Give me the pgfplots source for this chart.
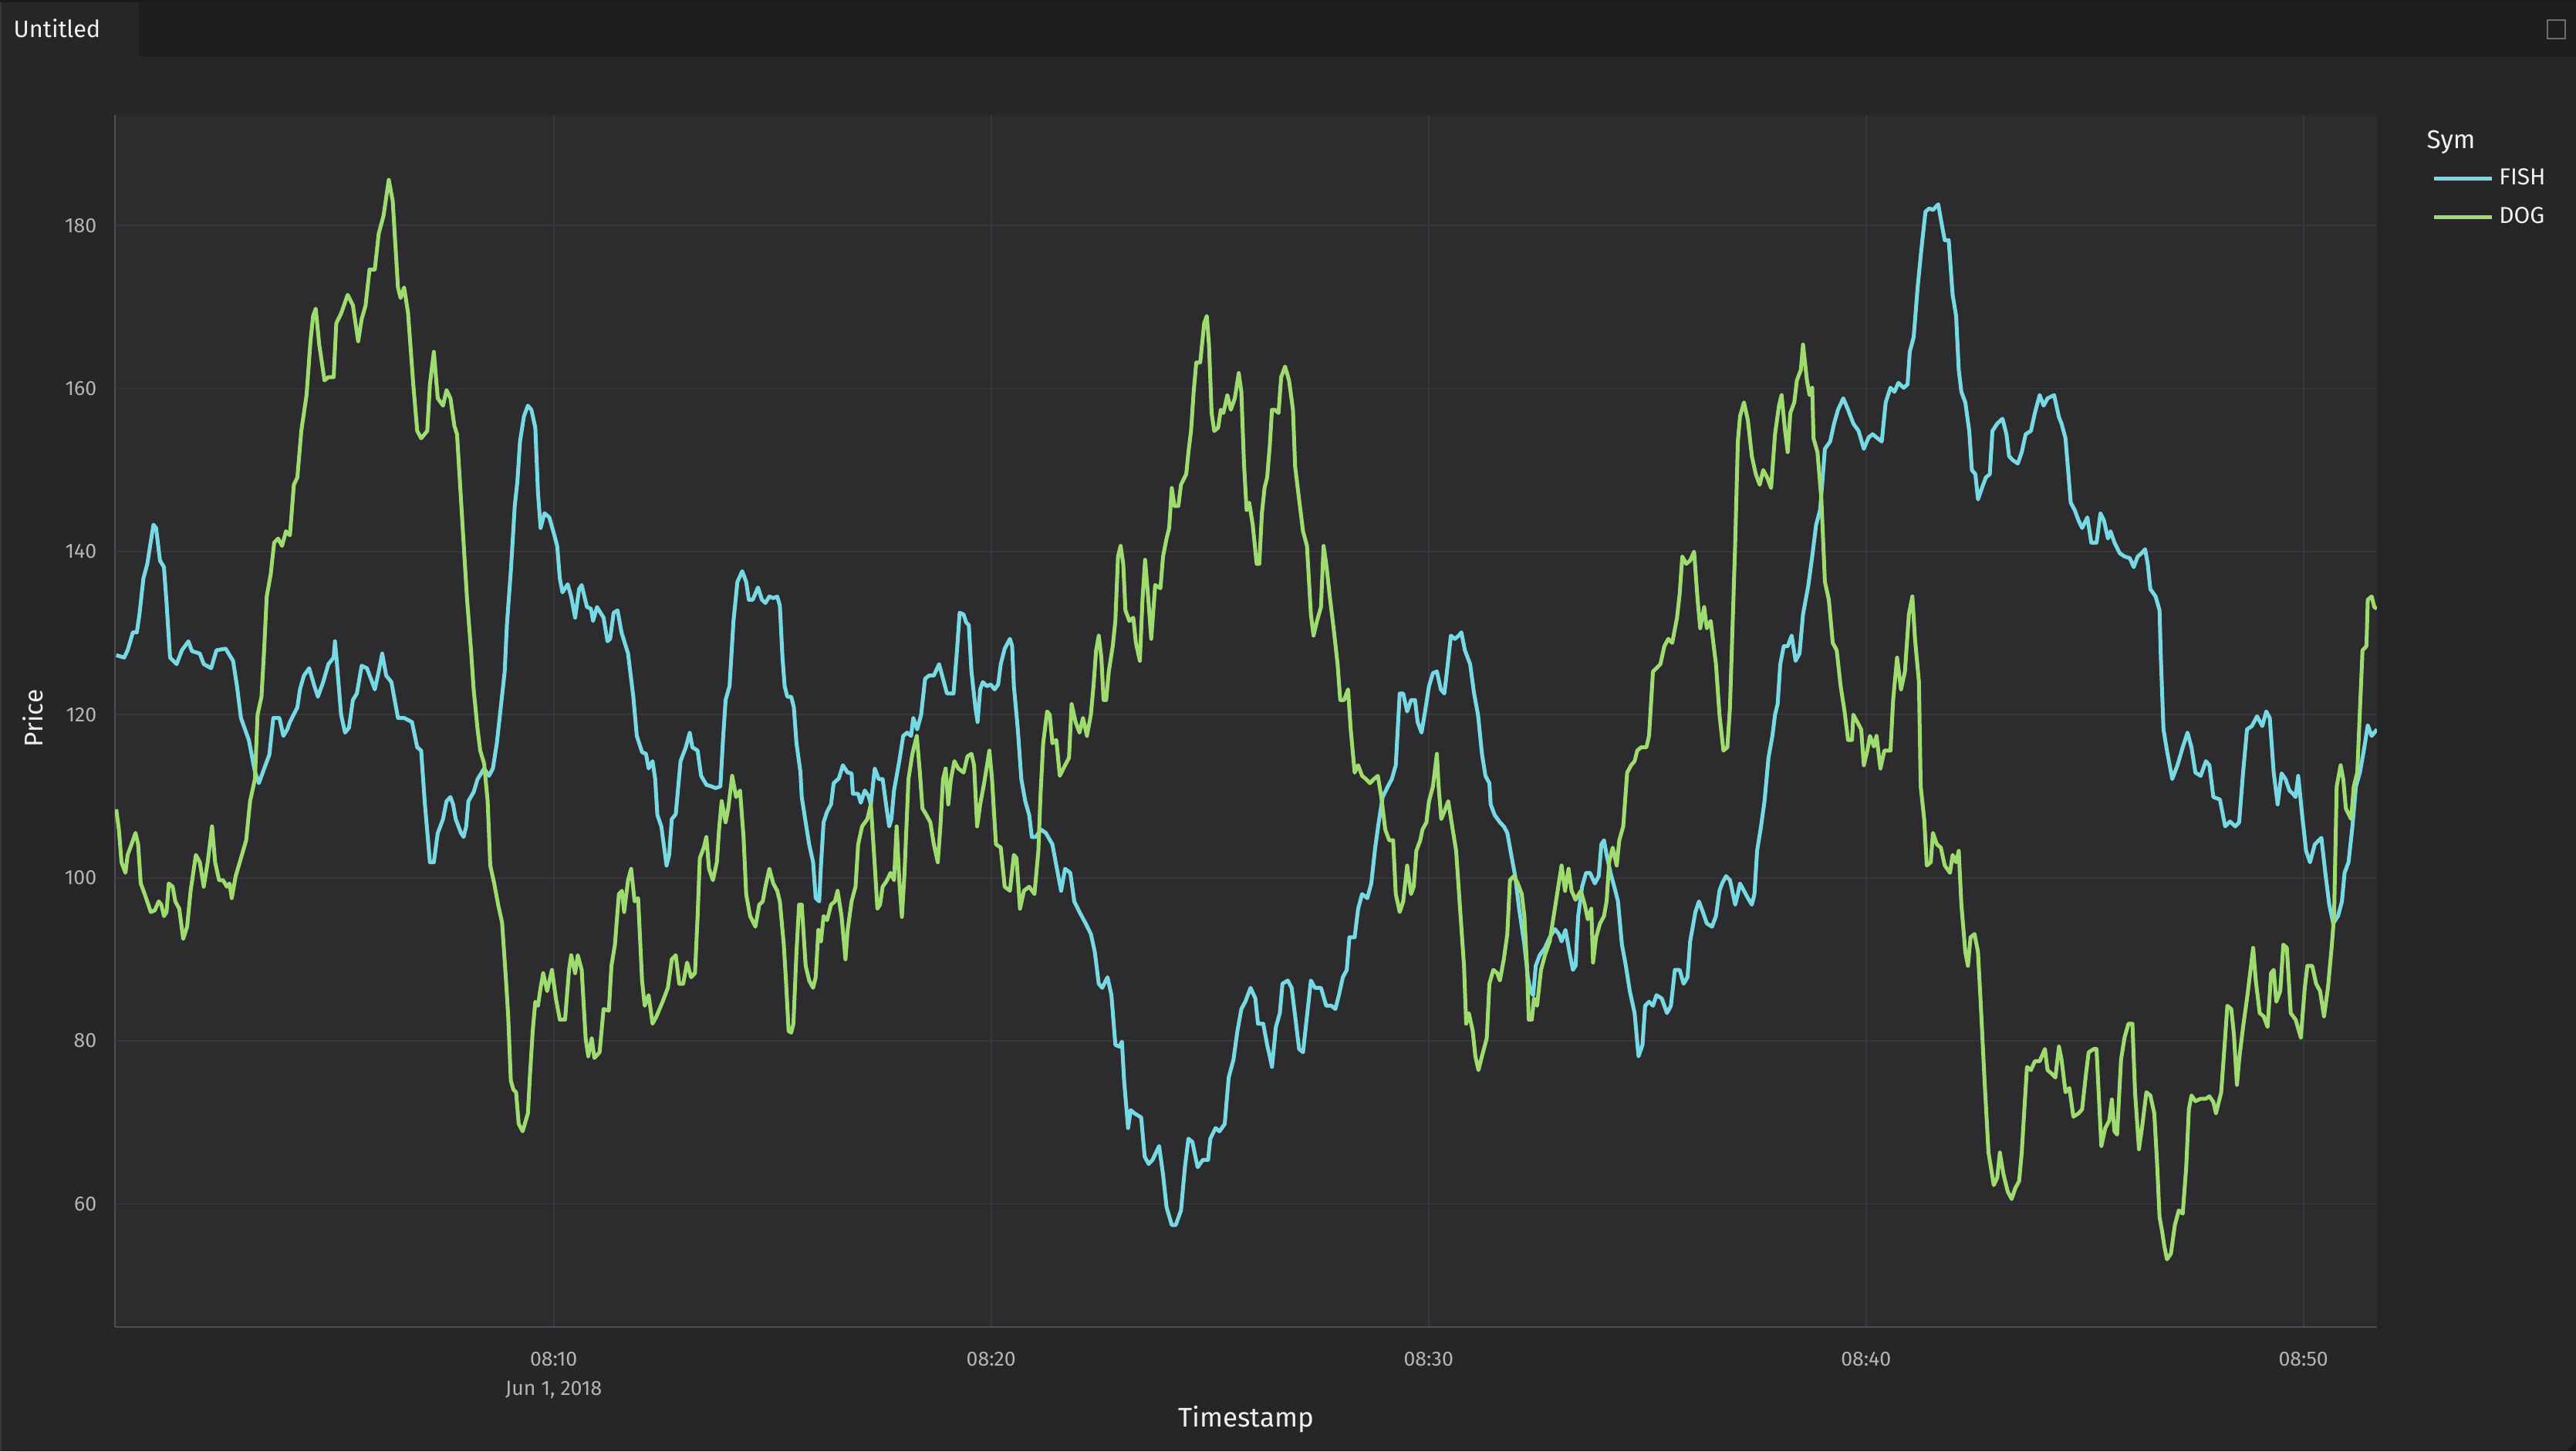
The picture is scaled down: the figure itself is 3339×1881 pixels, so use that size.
\documentclass[border=0pt]{standalone}
\usepackage{fontspec}
\setmainfont{Fira Sans}
\usepackage{pgfplots}
\pgfplotsset{compat=1.18}
\usepackage{pgfplotstable}

\definecolor{outerbg}{HTML}{1A1A1C}
\definecolor{barbg}{HTML}{1E1E20}
\definecolor{panelbg}{HTML}{262528}
\definecolor{plotbg}{HTML}{2C2B2E}
\definecolor{gridc}{HTML}{38373B}
\definecolor{axisc}{HTML}{4E4D51}
\definecolor{tickc}{HTML}{B4B4B4}
\definecolor{labelc}{HTML}{F0F0EE}
\definecolor{iconc}{HTML}{6E6E6E}
\definecolor{fishc}{HTML}{76D9E4}
\definecolor{dogc}{HTML}{9EDC6F}

% minutes after 08:00 on Jun 1, 2018 ; price
\pgfplotstableread{
t p
0.00 127.3
0.18 127.0
0.26 127.9
0.38 130.1
0.47 130.1
0.53 132.3
0.62 136.7
0.71 138.5
0.85 143.3
0.91 142.9
1.00 138.9
1.09 138.1
1.15 133.7
1.23 127.0
1.38 126.2
1.50 127.9
1.65 129.0
1.73 127.8
1.91 127.5
2.00 126.2
2.17 125.7
2.29 127.9
2.50 128.1
2.67 126.6
2.76 123.5
2.85 119.6
3.03 116.9
3.17 113.0
3.26 111.6
3.41 113.8
3.50 115.1
3.59 119.6
3.73 119.6
3.82 117.4
3.91 118.2
3.97 119.1
4.14 120.9
4.20 123.1
4.29 124.8
4.41 125.7
4.53 123.5
4.61 122.2
4.73 124.0
4.85 126.2
4.97 127.0
5.00 129.0
5.04 126.6
5.14 120.0
5.23 117.8
5.32 118.4
5.41 121.8
5.50 122.6
5.61 126.0
5.73 125.7
5.85 124.0
5.91 123.1
6.00 125.3
6.08 127.5
6.17 124.8
6.29 124.0
6.44 119.6
6.58 119.6
6.76 119.1
6.88 116.0
6.97 115.6
7.05 109.4
7.17 101.9
7.26 101.9
7.35 105.5
7.38 105.9
7.47 107.2
7.55 109.4
7.64 109.9
7.70 109.0
7.76 107.2
7.88 105.5
7.94 105.0
8.00 106.3
8.05 109.4
8.17 110.5
8.26 112.1
8.41 113.4
8.52 112.5
8.61 113.4
8.70 116.5
8.79 120.9
8.88 125.3
8.93 131.0
9.02 137.6
9.11 145.6
9.17 148.6
9.23 153.5
9.32 156.6
9.41 157.9
9.49 157.4
9.58 155.2
9.64 147.3
9.70 142.9
9.79 144.7
9.90 144.2
9.99 142.5
10.08 140.7
10.14 136.7
10.20 135.0
10.32 136.0
10.40 134.5
10.49 131.9
10.58 135.4
10.64 135.9
10.76 133.2
10.85 133.0
10.90 131.5
10.99 133.2
11.14 131.9
11.23 129.0
11.29 129.3
11.37 132.5
11.46 132.8
11.55 130.1
11.70 127.5
11.82 122.2
11.90 117.4
12.02 115.4
12.11 115.2
12.17 113.4
12.26 114.3
12.32 112.1
12.37 107.7
12.46 106.3
12.58 101.5
12.64 102.8
12.70 107.2
12.79 107.8
12.90 114.3
13.02 116.0
13.11 117.8
13.17 116.0
13.29 115.6
13.37 112.5
13.49 111.4
13.61 111.2
13.70 111.0
13.81 111.2
13.87 116.9
13.93 121.8
14.02 123.5
14.11 131.5
14.20 136.3
14.31 137.6
14.40 136.3
14.46 134.1
14.55 134.1
14.67 135.6
14.76 134.1
14.84 133.7
14.93 134.5
15.02 134.3
15.11 134.5
15.17 133.4
15.23 127.0
15.28 123.5
15.34 122.2
15.43 122.2
15.49 120.9
15.55 116.5
15.64 113.0
15.67 109.9
15.76 106.8
15.84 104.1
15.93 101.9
15.99 97.5
16.07 97.1
16.11 101.5
16.17 106.8
16.25 108.1
16.34 109.0
16.40 111.6
16.52 112.2
16.61 113.8
16.72 112.9
16.81 112.8
16.84 110.3
16.96 110.3
17.02 109.2
17.11 110.7
17.20 110.0
17.25 109.0
17.34 113.4
17.43 112.1
17.52 112.1
17.61 108.5
17.67 106.3
17.72 107.2
17.78 110.7
17.90 114.3
17.99 117.4
18.08 117.8
18.17 117.4
18.22 119.6
18.31 118.2
18.40 120.0
18.49 124.4
18.58 124.8
18.69 124.8
18.81 126.2
18.90 124.4
18.99 122.6
19.14 122.6
19.22 127.9
19.28 132.5
19.37 132.3
19.43 131.3
19.49 131.0
19.55 125.3
19.64 120.9
19.69 119.1
19.75 123.1
19.81 124.0
19.90 123.5
19.99 123.7
20.08 123.1
20.16 123.7
20.22 126.2
20.31 128.1
20.43 129.3
20.48 128.4
20.52 123.5
20.61 118.2
20.69 112.1
20.78 109.4
20.87 107.7
20.93 105.0
21.02 105.0
21.14 105.9
21.25 105.5
21.40 104.1
21.49 101.5
21.60 98.4
21.69 101.1
21.81 100.6
21.90 97.1
22.02 95.8
22.16 94.4
22.28 93.1
22.37 90.9
22.46 87.0
22.54 86.5
22.66 87.8
22.75 85.6
22.84 79.5
22.93 79.3
22.99 79.9
23.04 75.1
23.13 69.3
23.19 71.5
23.28 71.1
23.43 70.6
23.51 65.8
23.60 64.9
23.69 65.4
23.84 67.1
23.93 63.6
24.01 59.6
24.13 57.4
24.22 57.4
24.34 59.2
24.43 64.5
24.51 68.0
24.60 67.6
24.72 64.5
24.84 65.4
24.96 65.4
25.01 68.0
25.13 69.3
25.22 68.9
25.34 69.8
25.43 75.5
25.54 77.7
25.63 81.2
25.72 83.9
25.81 84.8
25.93 86.5
26.04 85.2
26.10 82.1
26.22 82.1
26.31 79.5
26.37 78.1
26.42 76.8
26.51 81.7
26.60 83.4
26.66 87.0
26.78 87.4
26.87 86.5
26.95 83.0
27.04 79.0
27.13 78.6
27.22 83.0
27.31 87.4
27.40 86.5
27.54 86.5
27.66 84.3
27.78 84.3
27.87 83.9
27.95 85.6
28.04 87.8
28.13 88.7
28.19 92.7
28.31 92.7
28.39 96.2
28.48 98.0
28.60 97.5
28.69 99.3
28.78 103.7
28.86 106.8
28.95 109.9
29.07 111.2
29.16 112.1
29.25 113.8
29.34 122.6
29.42 122.6
29.51 120.4
29.60 121.8
29.69 121.8
29.75 119.1
29.84 117.8
29.92 120.4
30.01 123.5
30.10 125.1
30.19 125.3
30.28 123.1
30.36 122.6
30.42 125.3
30.51 129.7
30.60 129.3
30.69 129.7
30.75 130.1
30.83 127.9
30.95 126.2
31.04 122.6
31.13 120.0
31.22 115.2
31.30 112.5
31.39 111.6
31.42 109.0
31.51 107.7
31.63 106.8
31.72 106.3
31.80 105.5
31.89 102.8
31.98 100.2
32.07 96.2
32.19 91.8
32.27 87.8
32.33 86.1
32.39 85.6
32.45 89.2
32.54 90.5
32.66 91.4
32.77 92.7
32.89 93.7
32.98 93.1
33.04 92.2
33.13 93.6
33.22 90.9
33.30 88.7
33.36 89.2
33.42 95.3
33.51 98.9
33.60 100.6
33.69 100.6
33.80 99.3
33.89 100.2
33.95 104.1
34.01 104.6
34.07 102.8
34.16 100.6
34.27 98.4
34.33 97.1
34.42 91.8
34.51 89.2
34.60 86.1
34.71 83.4
34.80 78.1
34.89 79.5
34.95 84.3
35.04 84.8
35.13 84.3
35.21 85.6
35.33 85.2
35.45 83.4
35.54 84.3
35.63 88.7
35.74 88.7
35.83 87.0
35.92 87.8
35.98 92.2
36.10 95.8
36.18 97.1
36.27 95.8
36.36 94.4
36.48 94.0
36.57 95.3
36.65 98.4
36.71 99.3
36.80 100.2
36.89 99.7
37.01 96.7
37.07 98.0
37.12 99.3
37.21 98.4
37.30 97.5
37.39 96.7
37.45 98.0
37.51 103.3
37.60 106.3
37.68 109.4
37.77 114.7
37.86 117.4
37.92 120.0
37.98 121.3
38.04 126.2
38.12 128.4
38.21 128.4
38.30 129.7
38.39 126.6
38.48 127.5
38.56 132.3
38.68 135.8
38.77 139.4
38.86 143.3
38.95 145.1
39.01 149.1
39.06 152.6
39.18 153.5
39.27 155.7
39.36 157.4
39.48 158.8
39.59 157.4
39.71 155.7
39.83 154.8
39.95 152.6
40.06 154.0
40.15 154.4
40.24 154.0
40.36 153.5
40.45 158.3
40.56 160.1
40.65 159.6
40.74 160.7
40.86 160.1
40.95 160.5
41.00 164.5
41.09 166.3
41.18 172.4
41.27 177.3
41.36 181.7
41.45 182.1
41.53 181.9
41.65 182.6
41.74 179.9
41.80 178.2
41.89 178.2
41.98 171.5
42.06 168.9
42.12 162.3
42.18 159.6
42.27 158.3
42.36 154.8
42.42 150.0
42.50 149.5
42.56 146.4
42.65 147.8
42.74 149.1
42.83 149.5
42.89 154.8
43.00 155.7
43.12 156.3
43.21 154.4
43.27 151.7
43.36 151.2
43.47 150.8
43.56 152.2
43.65 154.4
43.77 154.8
43.86 157.0
43.97 159.2
44.06 157.9
44.15 158.8
44.30 159.2
44.41 156.5
44.47 155.7
44.56 153.9
44.62 150.0
44.68 146.0
44.77 145.1
44.86 143.8
44.94 142.9
45.06 144.2
45.15 141.1
45.27 141.1
45.36 144.7
45.44 143.8
45.53 141.6
45.59 142.5
45.68 141.1
45.80 139.8
45.91 139.4
46.03 139.2
46.12 138.1
46.21 139.4
46.30 139.8
46.38 140.3
46.44 138.5
46.50 135.4
46.62 134.5
46.71 132.8
46.74 127.0
46.80 118.2
46.88 115.6
47.00 112.1
47.12 113.8
47.24 116.0
47.35 117.8
47.44 116.0
47.53 112.9
47.65 112.5
47.77 114.3
47.85 113.8
47.94 109.9
48.09 109.6
48.21 106.3
48.32 106.9
48.44 106.3
48.53 106.8
48.62 112.9
48.71 118.2
48.82 118.6
48.94 119.8
49.06 118.6
49.15 120.4
49.23 119.6
49.32 112.9
49.41 109.0
49.50 112.8
49.59 112.1
49.68 110.7
49.76 110.3
49.82 109.9
49.88 112.5
49.97 107.7
50.06 103.3
50.15 101.9
50.26 104.1
50.41 104.9
50.50 100.6
50.59 96.7
50.68 94.4
50.79 95.3
50.88 97.1
50.94 100.6
51.03 101.9
51.12 106.3
51.20 111.2
51.29 112.9
51.38 115.6
51.47 118.7
51.56 117.4
51.68 118.2
}\fishdata

\pgfplotstableread{
t p
0.00 108.4
0.06 105.9
0.12 101.9
0.21 100.6
0.26 102.8
0.35 104.1
0.44 105.5
0.50 104.1
0.56 99.3
0.65 98.0
0.79 95.8
0.88 96.0
0.97 97.1
1.03 96.7
1.09 95.3
1.15 95.8
1.20 99.3
1.29 98.9
1.35 97.1
1.44 96.2
1.53 92.5
1.62 94.0
1.70 98.4
1.82 102.8
1.91 101.9
2.00 98.9
2.09 101.9
2.19 106.3
2.26 101.9
2.35 99.7
2.44 99.7
2.53 98.9
2.59 99.3
2.64 97.5
2.73 100.2
2.85 102.4
2.97 104.6
3.06 109.4
3.17 112.1
3.23 120.0
3.32 122.2
3.38 127.9
3.44 134.5
3.53 137.2
3.61 141.1
3.70 141.6
3.79 140.7
3.88 142.5
3.97 142.0
4.06 148.2
4.14 149.1
4.23 154.8
4.35 159.2
4.44 165.8
4.50 168.9
4.56 169.8
4.64 165.4
4.76 161.0
4.85 161.4
4.97 161.4
5.03 168.0
5.14 169.2
5.29 171.5
5.41 170.2
5.53 165.8
5.61 168.5
5.70 170.2
5.79 174.6
5.91 174.6
6.00 179.0
6.11 181.2
6.17 183.4
6.23 185.6
6.32 183.0
6.44 172.4
6.50 171.1
6.58 172.4
6.67 169.3
6.79 160.5
6.88 154.8
6.97 153.9
7.11 154.8
7.17 160.5
7.26 164.5
7.35 158.8
7.47 157.9
7.55 159.8
7.64 158.8
7.73 155.4
7.79 154.4
7.85 149.1
7.94 141.1
8.02 134.1
8.11 127.9
8.17 123.1
8.26 118.2
8.32 115.6
8.41 114.0
8.49 109.4
8.55 101.5
8.64 99.3
8.73 96.7
8.82 94.5
8.91 87.4
8.96 83.0
9.02 75.1
9.08 74.0
9.14 73.7
9.20 69.8
9.29 68.9
9.41 71.1
9.46 76.0
9.52 81.2
9.58 84.8
9.64 84.3
9.70 86.5
9.76 88.3
9.85 86.1
9.96 88.7
10.05 85.2
10.14 82.6
10.26 82.6
10.35 88.7
10.40 90.5
10.49 88.3
10.55 90.5
10.64 88.7
10.73 80.3
10.79 78.1
10.87 80.3
10.93 77.9
11.05 78.6
11.14 83.9
11.26 83.7
11.32 89.2
11.40 91.8
11.49 98.0
11.56 98.4
11.61 95.8
11.70 99.7
11.77 101.1
11.85 97.1
11.93 97.5
12.02 87.4
12.08 84.3
12.17 85.6
12.26 82.1
12.35 83.0
12.49 84.8
12.61 86.5
12.70 90.0
12.79 90.5
12.87 87.0
12.96 87.0
13.05 89.6
13.14 87.8
13.23 88.3
13.29 95.3
13.34 102.4
13.43 103.7
13.49 105.0
13.55 101.1
13.64 99.7
13.73 101.9
13.78 105.9
13.84 109.4
13.93 106.8
13.99 108.5
14.08 112.5
14.17 109.9
14.26 110.7
14.34 105.0
14.40 98.0
14.49 95.3
14.61 94.0
14.70 96.7
14.78 97.1
14.84 98.9
14.93 101.1
15.02 99.3
15.11 98.4
15.17 97.1
15.26 91.8
15.31 87.4
15.37 81.2
15.43 81.0
15.48 82.1
15.55 90.9
15.61 96.7
15.67 96.7
15.76 89.2
15.84 87.4
15.93 86.5
15.99 87.8
16.05 93.6
16.11 92.2
16.17 95.3
16.25 94.8
16.34 96.7
16.43 97.1
16.49 98.4
16.58 95.3
16.67 90.0
16.72 93.6
16.81 97.1
16.90 98.9
16.96 104.1
17.05 106.3
17.17 107.2
17.25 109.0
17.34 101.5
17.40 96.2
17.46 96.7
17.52 98.9
17.61 99.6
17.70 100.6
17.78 99.7
17.84 106.3
17.90 99.7
17.96 95.2
18.02 100.6
18.11 112.1
18.20 115.2
18.30 117.4
18.37 113.0
18.43 108.5
18.52 107.7
18.61 106.8
18.69 104.1
18.78 101.9
18.84 106.3
18.90 112.1
18.96 113.4
19.02 109.0
19.08 112.1
19.16 114.3
19.25 113.4
19.37 112.9
19.46 114.9
19.55 115.2
19.61 113.8
19.68 106.3
19.75 109.0
19.84 111.6
19.96 115.6
20.02 112.1
20.11 104.1
20.22 103.7
20.31 98.9
20.43 98.4
20.52 102.8
20.58 102.4
20.66 96.2
20.75 98.4
20.87 98.9
20.99 98.0
21.08 103.3
21.13 110.3
21.19 116.5
21.28 120.4
21.34 120.0
21.40 116.5
21.49 116.9
21.57 112.5
21.69 113.8
21.78 114.7
21.84 121.3
21.93 119.1
22.02 117.8
22.10 119.6
22.19 117.4
22.28 120.0
22.34 123.5
22.40 127.9
22.46 129.7
22.52 127.0
22.57 121.8
22.63 121.8
22.69 125.3
22.78 128.4
22.84 131.5
22.90 139.4
22.96 140.7
23.02 138.5
23.07 132.8
23.16 131.5
23.25 131.9
23.31 128.8
23.40 126.6
23.46 134.1
23.52 139.0
23.60 133.7
23.66 129.3
23.75 135.9
23.87 135.5
23.93 139.4
24.01 141.6
24.07 142.9
24.13 147.8
24.19 145.6
24.28 145.6
24.34 148.2
24.46 149.5
24.51 152.2
24.57 154.8
24.63 159.6
24.69 163.2
24.78 163.2
24.87 168.0
24.93 168.9
24.98 165.4
25.04 157.0
25.10 154.8
25.19 155.2
25.25 157.4
25.31 157.0
25.40 159.2
25.48 157.4
25.57 158.8
25.66 161.9
25.72 159.6
25.78 150.8
25.84 145.1
25.90 146.0
25.98 143.3
26.07 138.5
26.13 138.5
26.19 144.7
26.25 147.8
26.31 149.1
26.37 153.0
26.42 157.4
26.48 157.4
26.57 157.0
26.63 161.4
26.72 162.7
26.81 161.0
26.90 157.4
26.95 150.4
27.04 146.4
27.13 142.5
27.22 140.7
27.31 132.3
27.37 129.7
27.45 131.5
27.54 133.2
27.60 140.7
27.66 138.5
27.75 134.1
27.84 130.1
27.92 126.2
27.98 121.8
28.07 121.8
28.16 123.1
28.22 118.2
28.31 112.9
28.39 113.8
28.48 112.5
28.57 112.1
28.66 111.6
28.75 112.1
28.84 112.5
28.92 109.9
29.01 105.9
29.10 104.6
29.19 104.6
29.25 98.0
29.34 95.8
29.42 97.1
29.51 101.5
29.60 98.0
29.66 98.9
29.72 103.3
29.81 104.6
29.86 105.9
29.95 106.8
30.01 109.4
30.10 111.2
30.19 115.2
30.23 111.2
30.29 107.2
30.36 108.1
30.45 109.4
30.54 106.3
30.63 103.3
30.72 96.2
30.81 89.2
30.86 82.1
30.92 83.4
31.01 81.2
31.07 78.1
31.14 76.4
31.22 78.1
31.33 80.3
31.39 87.0
31.48 88.7
31.57 88.3
31.63 87.4
31.72 90.0
31.80 93.1
31.86 99.7
31.95 100.2
32.04 99.3
32.13 98.0
32.19 95.3
32.25 89.2
32.29 82.6
32.36 82.6
32.41 85.2
32.48 84.3
32.57 88.7
32.66 90.5
32.77 92.2
32.86 95.3
32.95 98.4
33.04 101.5
33.12 98.4
33.20 101.1
33.27 98.4
33.36 97.3
33.48 98.4
33.57 96.7
33.64 94.9
33.72 96.2
33.76 89.6
33.83 92.7
33.92 94.4
34.01 95.3
34.07 97.1
34.13 102.0
34.21 103.7
34.30 101.5
34.36 104.6
34.45 106.3
34.54 112.9
34.63 113.8
34.71 114.3
34.77 115.6
34.86 116.0
34.98 116.0
35.04 117.4
35.13 125.3
35.21 125.7
35.30 126.2
35.39 128.4
35.48 129.3
35.57 128.8
35.68 131.9
35.74 134.8
35.80 139.4
35.89 138.5
35.98 138.9
36.07 140.0
36.15 134.1
36.21 130.6
36.30 133.2
36.36 130.6
36.45 131.5
36.51 128.8
36.57 126.2
36.65 120.0
36.74 115.6
36.83 116.0
36.89 120.9
36.95 131.0
37.01 141.1
37.07 153.5
37.12 156.6
37.21 158.3
37.30 156.1
37.39 151.7
37.48 149.5
37.57 148.2
37.65 150.0
37.74 149.1
37.83 147.8
37.92 154.4
38.01 157.9
38.07 159.2
38.15 154.8
38.21 152.2
38.27 157.0
38.36 158.3
38.42 161.0
38.51 162.3
38.56 165.4
38.65 161.0
38.71 159.2
38.77 160.1
38.80 153.9
38.89 152.2
38.98 146.4
39.06 136.3
39.15 134.1
39.24 128.8
39.33 127.9
39.42 123.5
39.51 120.4
39.59 116.9
39.68 116.9
39.71 120.0
39.80 119.1
39.89 118.2
39.95 113.8
40.03 115.6
40.09 117.4
40.18 116.1
40.24 117.4
40.33 113.4
40.42 115.6
40.56 115.6
40.62 121.8
40.71 127.0
40.80 123.1
40.89 125.3
40.98 132.3
41.06 134.5
41.12 129.3
41.21 124.0
41.25 111.2
41.33 107.2
41.39 101.5
41.48 101.9
41.53 105.5
41.62 104.1
41.71 103.7
41.80 101.5
41.92 100.6
41.98 102.8
42.06 101.9
42.12 103.3
42.18 96.7
42.27 90.9
42.33 89.2
42.39 92.7
42.48 93.1
42.56 90.9
42.62 84.8
42.71 75.1
42.80 66.3
42.92 62.3
43.00 63.2
43.06 66.3
43.14 63.7
43.24 61.5
43.33 60.6
43.41 61.9
43.50 62.8
43.56 66.3
43.62 71.6
43.68 76.8
43.77 76.4
43.86 77.5
43.97 77.5
44.09 79.0
44.15 76.4
44.24 76.0
44.33 75.5
44.41 79.3
44.47 77.7
44.56 73.7
44.65 74.2
44.74 70.7
44.86 71.1
44.94 71.6
45.03 76.0
45.09 78.6
45.21 79.0
45.27 79.0
45.33 72.4
45.38 67.1
45.47 69.3
45.56 70.2
45.62 72.8
45.68 68.9
45.74 68.5
45.83 77.7
45.91 80.4
46.00 82.1
46.09 82.1
46.15 73.7
46.24 66.7
46.32 69.8
46.41 73.7
46.50 73.3
46.59 71.1
46.65 65.4
46.71 58.4
46.77 56.6
46.82 54.8
46.88 53.2
46.97 53.9
47.06 57.4
47.15 59.2
47.24 58.8
47.32 64.5
47.38 71.6
47.44 73.3
47.53 72.6
47.65 72.9
47.77 72.9
47.85 73.2
47.94 72.5
48.00 71.1
48.12 73.7
48.21 80.4
48.26 84.3
48.35 83.9
48.41 80.8
48.48 74.6
48.53 77.7
48.62 81.7
48.71 85.2
48.79 88.7
48.85 91.4
48.91 87.4
49.00 83.4
49.09 83.0
49.18 81.7
49.26 88.3
49.32 88.7
49.38 84.8
49.47 86.1
49.54 91.8
49.62 91.4
49.71 83.4
49.82 82.6
49.94 80.4
50.03 86.5
50.09 89.2
50.20 89.2
50.29 87.0
50.38 86.1
50.47 83.0
50.56 86.5
50.65 91.8
50.70 95.3
50.76 111.2
50.85 113.8
50.91 112.1
50.97 108.5
51.09 107.2
51.15 111.2
51.23 112.9
51.29 120.4
51.35 127.9
51.44 128.4
51.47 134.1
51.56 134.5
51.62 133.2
51.68 133.0
}\dogdata

\begin{document}
\begin{tikzpicture}[x=0.3pt,y=0.3pt]
  \useasboundingbox (0,0) rectangle (3339,1881);
  % window chrome
  \fill[outerbg] (0,0) rectangle (3339,1881);
  \fill[panelbg, rounded corners=6pt] (0,0) rectangle (3339,1830);
  \fill[panelbg] (0,60) rectangle (3339,1808);
  \fill[panelbg] (0,0) rectangle (60,1808);
  \fill[barbg] (0,1808) rectangle (3339,1878);
  \fill[panelbg] (0,1808) rectangle (180,1878);
  \fill[gridc] (0,0) rectangle (2,1878);
  \node[anchor=west, inner sep=0pt, text=labelc, font=\fontsize{9.2}{11}\selectfont] at (17,1844) {Untitled};
  \draw[iconc, line width=0.6pt] (3302,1831) rectangle (3325,1855);

  \begin{axis}[
    at={(44.7pt,48.3pt)}, anchor=south west,
    scale only axis, width=879.6pt, height=471.45pt,
    xmin=-0.03, xmax=51.68, ymin=44.9, ymax=193.6,
    axis background/.style={fill=plotbg},
    axis x line*=bottom, axis y line*=left,
    axis line style={draw=axisc, line width=0.7pt},
    grid=major, major grid style={draw=gridc, line width=0.5pt},
    major tick length=0pt,
    xtick={10,20,30,40,50},
    xticklabels={{08:10\\Jun 1, 2018},08:20,08:30,08:40,08:50},
    ytick={60,80,100,120,140,160,180},
    /pgf/number format/assume math mode=true,
    tick label style={font=\fontsize{8}{11.2}\selectfont, text=tickc},
    xticklabel style={align=center, yshift=-6.3pt},
    yticklabel style={xshift=-3.6pt},
    legend style={at={(1.0242,0.9600)}, anchor=north west, draw=none, fill=none,
      inner sep=0pt, font=\fontsize{9}{10.8}\selectfont, text=labelc,
      row sep=3pt, /tikz/every even column/.append style={column sep=4pt}},
    legend cell align=left,
    legend image code/.code={\draw[#1] (0pt,0pt) -- (22.5pt,0pt);},
  ]
    \addplot[fishc, line width=1.5pt, line join=round] table[x=t, y=p] {\fishdata};
    \addlegendentry{FISH}
    \addplot[dogc, line width=1.5pt, line join=round] table[x=t, y=p] {\dogdata};
    \addlegendentry{DOG}
  \end{axis}

  % axis titles and legend heading
  \node[rotate=90, text=labelc, font=\fontsize{10}{12}\selectfont] at (43,950) {Price};
  \node[text=labelc, font=\fontsize{10.5}{12}\selectfont] at (1615,41) {Timestamp};
  \node[anchor=west, inner sep=0pt, text=labelc, font=\fontsize{10}{12}\selectfont] at (3145,1697) {Sym};
\end{tikzpicture}
\end{document}
